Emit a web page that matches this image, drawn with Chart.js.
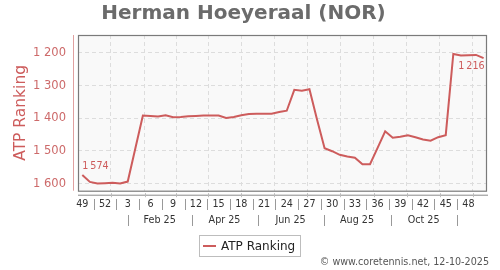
<!DOCTYPE html>
<html>
<head>
<meta charset="utf-8">
<script src="https://cdn.jsdelivr.net/npm/chart.js@4.4.1/dist/chart.umd.min.js"></script>
<style>
  html, body { margin: 0; padding: 0; background: #fff; }
</style>
</head>
<body>
<canvas id="grafico" width="500" height="270"></canvas>
<script>
const jugador = "Herman Hoeyeraal (NOR)";
const serie = "ATP Ranking";
const pie = "© www.coretennis.net, 12-10-2025";

// semanas (una por punto)
const semanas = [49, 50, 51, 52, 1, 2, 3, 4, 5, 6, 7, 8, 9, 10, 11, 12, 13, 14, 15, 16,
  17, 18, 19, 20, 21, 22, 23, 24, 25, 26, 27, 28, 29, 30, 31, 32, 33, 34, 35, 36,
  37, 38, 39, 40, 41, 42, 43, 44, 45, 46, 47, 48, 49, 50];
const ranking = [1574, 1595, 1600, 1599, 1598, 1600, 1594, 1493, 1392, 1393,
  1395, 1391, 1397, 1396, 1394, 1393, 1392, 1392, 1392, 1399,
  1396, 1391, 1387, 1386, 1386, 1386, 1381, 1377, 1313, 1316,
  1311, 1404, 1492, 1501, 1512, 1517, 1521, 1541, 1541, 1491,
  1440, 1460, 1457, 1452, 1458, 1465, 1469, 1458, 1452, 1203,
  1208, 1207, 1206, 1216];
const fechaPrimerPunto = "2024-11-20";
const iniciosMes = ["2024-12-01", "2025-01-01", "2025-02-01", "2025-03-01", "2025-04-01",
  "2025-05-01", "2025-06-01", "2025-07-01", "2025-08-01", "2025-09-01", "2025-10-01",
  "2025-11-01", "2025-12-01"];
const bloquesMes = ["2025-01-01", "2025-03-01", "2025-05-01", "2025-07-01", "2025-09-01", "2025-11-01"];
const etiquetasMes = ["Feb 25", "Apr 25", "Jun 25", "Aug 25", "Oct 25"];
const ticksY = [1200, 1300, 1400, 1500, 1600];

const colorLinea = '#cd5c5c';
const fuente = "'DejaVu Sans', sans-serif";

const aSemana = (f) => (Date.parse(f) - Date.parse(fechaPrimerPunto)) / (7 * 864e5);
const formato = (v, sep) => String(v).replace(/\B(?=(\d{3})+(?!\d))/g, sep);

// rejilla vertical: mitad de cada mes
const rejillaX = [];
for (let i = 0; i < iniciosMes.length - 1; i++) {
  rejillaX.push((aSemana(iniciosMes[i]) + aSemana(iniciosMes[i + 1])) / 2);
}

const puntos = ranking.map((v, i) => ({ x: i, y: v }));

const decorado = {
  id: 'decorado',
  beforeDraw(chart) {
    const { ctx, chartArea: a } = chart;
    ctx.save();
    ctx.fillStyle = '#f9f9f9';
    ctx.fillRect(a.left, a.top, a.right - a.left, a.bottom - a.top);
    ctx.restore();
  },
  afterDraw(chart) {
    const { ctx, chartArea: a } = chart;
    const x = chart.scales.x;
    ctx.save();

    // borde del área
    ctx.strokeStyle = '#7a7a7a';
    ctx.lineWidth = 1.2;
    ctx.strokeRect(a.left + 0.5, a.top + 0.5, a.right - a.left - 1, a.bottom - a.top);

    // línea del eje Y
    ctx.strokeStyle = '#e0a0a0';
    ctx.lineWidth = 1;
    ctx.beginPath();
    ctx.moveTo(a.left - 4.5, a.top);
    ctx.lineTo(a.left - 4.5, a.bottom);
    ctx.stroke();

    // línea del eje X
    const ejeY = a.bottom + 4.5;
    ctx.strokeStyle = '#8a8a8a';
    ctx.beginPath();
    ctx.moveTo(a.left, ejeY);
    ctx.lineTo(a.right + 1, ejeY);
    ctx.stroke();
    ctx.strokeStyle = '#bbbbbb';
    rejillaX.forEach(v => {
      const px = Math.round(x.getPixelForValue(v)) + 0.5;
      ctx.beginPath();
      ctx.moveTo(px, ejeY - 2);
      ctx.lineTo(px, ejeY + 2);
      ctx.stroke();
    });

    // semanas
    ctx.font = `9.6px ${fuente}`;
    ctx.fillStyle = '#333';
    ctx.textAlign = 'center';
    ctx.textBaseline = 'middle';
    semanas.forEach((s, i) => {
      if (i % 3 === 0) ctx.fillText(String(s), x.getPixelForValue(i), 204.5);
    });
    ctx.strokeStyle = '#999';
    for (let i = 1.5; i < semanas.length - 3; i += 3) {
      const px = Math.round(x.getPixelForValue(i)) + 0.5;
      ctx.beginPath();
      ctx.moveTo(px, 199);
      ctx.lineTo(px, 210);
      ctx.stroke();
    }

    // meses
    bloquesMes.forEach(f => {
      const px = Math.round(x.getPixelForValue(aSemana(f))) + 0.5;
      ctx.beginPath();
      ctx.moveTo(px, 215);
      ctx.lineTo(px, 226);
      ctx.stroke();
    });
    etiquetasMes.forEach((t, i) => {
      const c = (aSemana(bloquesMes[i]) + aSemana(bloquesMes[i + 1])) / 2;
      ctx.fillText(t, x.getPixelForValue(c), 220.5);
    });

    // etiquetas de primer y último valor
    const meta = chart.getDatasetMeta(0).data;
    const p0 = meta[0], pN = meta[meta.length - 1];
    ctx.fillStyle = colorLinea;
    ctx.textAlign = 'left';
    ctx.fillText(formato(ranking[0], '\u202F'), p0.x, p0.y - 8.6);
    ctx.textAlign = 'right';
    ctx.fillText(formato(ranking[ranking.length - 1], '\u202F'), pN.x + 1, pN.y + 8.6);

    // leyenda
    ctx.strokeStyle = '#bdbdbd';
    ctx.lineWidth = 1;
    ctx.strokeRect(199.5, 235.5, 101, 21);
    ctx.strokeStyle = colorLinea;
    ctx.lineWidth = 2;
    ctx.beginPath();
    ctx.moveTo(203, 246);
    ctx.lineTo(216, 246);
    ctx.stroke();
    ctx.font = `12px ${fuente}`;
    ctx.fillStyle = '#222';
    ctx.textAlign = 'left';
    ctx.fillText(serie, 221, 246.5);

    // pie
    ctx.font = `9.6px ${fuente}`;
    ctx.fillStyle = '#555';
    ctx.textAlign = 'right';
    ctx.fillText(pie, 489, 262.5);

    ctx.restore();
  }
};

Chart.defaults.font.family = fuente;

new Chart(document.getElementById('grafico').getContext('2d'), {
  type: 'line',
  data: {
    datasets: [{
      label: serie,
      data: puntos,
      borderColor: colorLinea,
      backgroundColor: colorLinea,
      borderWidth: 2,
      pointRadius: 0,
      tension: 0,
      fill: false
    }]
  },
  options: {
    responsive: false,
    animation: false,
    devicePixelRatio: 1,
    layout: { padding: { left: 0, right: 13, top: 0, bottom: 0 } },
    plugins: {
      legend: { display: false },
      tooltip: { enabled: false },
      title: {
        display: true,
        text: jugador,
        color: '#6b6b6b',
        font: { size: 20, weight: 'bold', family: fuente },
        padding: { top: 2, bottom: 9 }
      }
    },
    scales: {
      x: {
        type: 'linear',
        min: -0.57,
        max: 53.45,
        afterBuildTicks: (s) => { s.ticks = rejillaX.map(v => ({ value: v })); },
        afterFit: (s) => { s.height = 79.3; },
        ticks: { display: false },
        border: { display: false, dash: [4, 3] },
        grid: { color: '#dddddd', drawTicks: false }
      },
      y: {
        reverse: true,
        min: 1145,
        max: 1622,
        afterBuildTicks: (s) => { s.ticks = ticksY.map(v => ({ value: v })); },
        afterFit: (s) => { s.width = 78; },
        ticks: {
          color: '#cd6a6a',
          font: { size: 11.5 },
          padding: 12,
          callback: (v) => formato(v, ' ')
        },
        title: {
          display: true,
          text: serie,
          color: colorLinea,
          font: { size: 15.5 },
          padding: { top: 11.7, bottom: 0 }
        },
        border: { display: false, dash: [4, 3] },
        grid: { color: '#dddddd', drawTicks: false }
      }
    }
  },
  plugins: [decorado]
});
</script>
</body>
</html>
